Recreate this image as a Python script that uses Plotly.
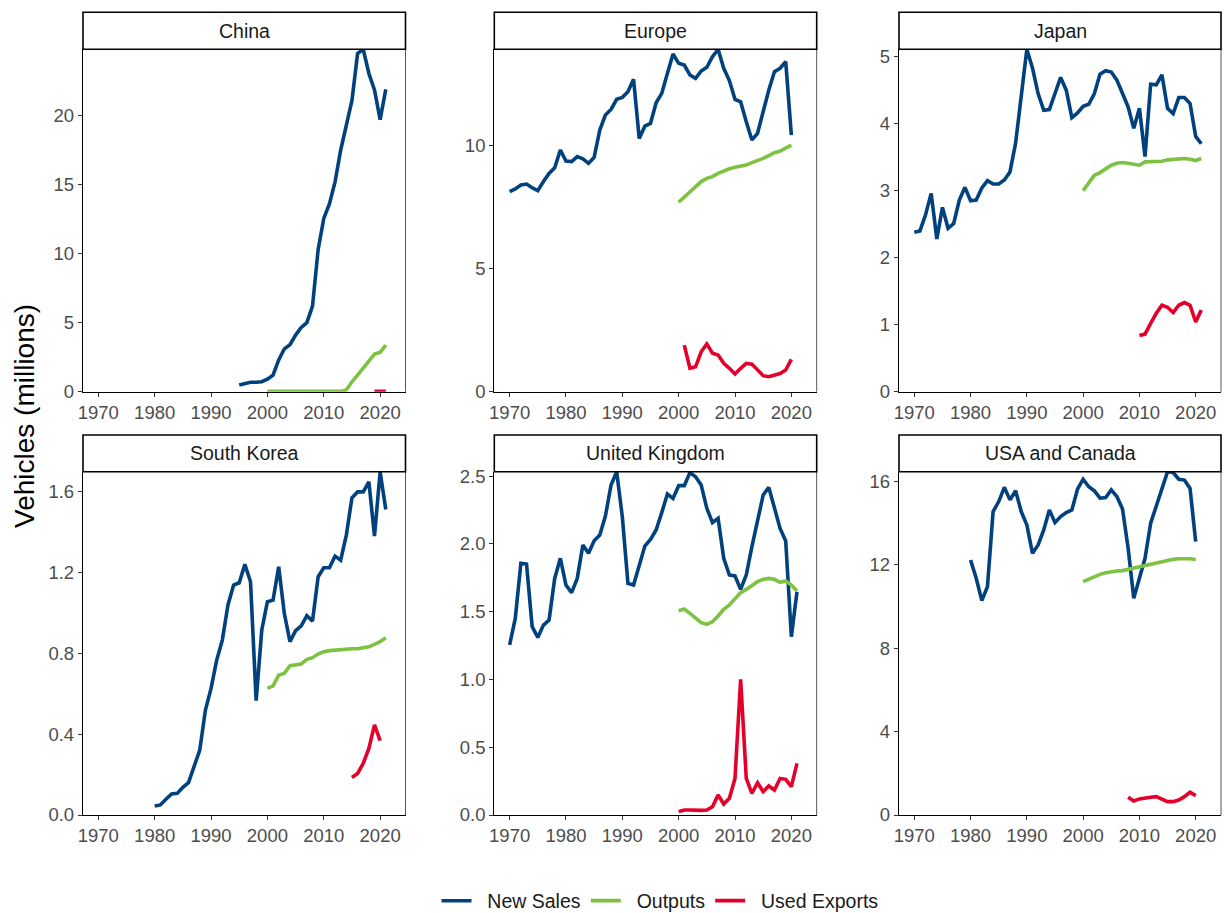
import plotly.graph_objects as go

# ---------------- data (millions of vehicles) ----------------
regions = ["China", "Europe", "Japan", "South Korea", "United Kingdom", "USA and Canada"]
series_names = ["New Sales", "Outputs", "Used Exports"]
series_colors = ["#00417E", "#7DC242", "#E4002B"]

china_new_years = list(range(1995, 2022))
china_new = [0.48, 0.6, 0.68, 0.68, 0.72, 0.9, 1.2, 2.3, 3.1, 3.4, 4.1, 4.65, 5.0, 6.2,
             10.3, 12.55, 13.6, 15.2, 17.5, 19.3, 21.1, 24.5, 24.8, 23.05, 21.85, 19.7, 21.9]
china_out_years = list(range(2000, 2022))
china_out = [0.02, 0.02, 0.02, 0.02, 0.02, 0.02, 0.02, 0.02, 0.02, 0.02, 0.02, 0.02, 0.02, 0.02,
             0.12, 0.72, 1.2, 1.7, 2.25, 2.73, 2.85, 3.38]
china_used_years = [2019, 2020, 2021]
china_used = [0.03, 0.03, 0.03]

europe_new_years = list(range(1970, 2021))
europe_new = [8.12, 8.23, 8.39, 8.43, 8.28, 8.16, 8.53, 8.86, 9.09, 9.81,
              9.36, 9.34, 9.54, 9.45, 9.27, 9.51, 10.62, 11.23, 11.46, 11.87,
              11.95, 12.18, 12.68, 10.28, 10.78, 10.89, 11.73, 12.11, 12.92, 13.71,
              13.33, 13.26, 12.86, 12.72, 13.02, 13.17, 13.6, 13.9, 13.13, 12.63,
              11.87, 11.77, 10.96, 10.22, 10.49, 11.43, 12.25, 12.99, 13.13, 13.4,
              10.42]
europe_out_years = list(range(2000, 2021))
europe_out = [7.69, 7.89, 8.12, 8.32, 8.53, 8.66, 8.73, 8.86, 8.96, 9.05, 9.11, 9.16, 9.2,
              9.3, 9.38, 9.47, 9.58, 9.7, 9.77, 9.88, 10.01]
europe_used_years = list(range(2001, 2021))
europe_used = [1.89, 0.95, 1.01, 1.62, 1.94, 1.56, 1.49, 1.15, 0.95, 0.72, 0.95, 1.15, 1.12,
               0.88, 0.65, 0.61, 0.68, 0.74, 0.88, 1.31]

japan_new_years = list(range(1970, 2022))
japan_new = [2.38, 2.4, 2.64, 2.96, 2.28, 2.75, 2.44, 2.51, 2.86, 3.05,
             2.85, 2.86, 3.04, 3.15, 3.1, 3.1, 3.16, 3.28, 3.71, 4.4,
             5.11, 4.83, 4.45, 4.2, 4.21, 4.45, 4.69, 4.5, 4.09, 4.16,
             4.26, 4.29, 4.45, 4.74, 4.79, 4.77, 4.65, 4.45, 4.25, 3.93,
             4.23, 3.51, 4.59, 4.58, 4.73, 4.23, 4.15, 4.39, 4.39, 4.3,
             3.81, 3.7]
japan_out_years = list(range(2000, 2022))
japan_out = [3.0, 3.11, 3.23, 3.27, 3.33, 3.38, 3.41, 3.42, 3.41, 3.39, 3.38, 3.43, 3.43,
             3.43, 3.44, 3.46, 3.47, 3.48, 3.48, 3.47, 3.45, 3.48]
japan_used_years = list(range(2010, 2022))
japan_used = [0.84, 0.86, 1.02, 1.17, 1.29, 1.26, 1.18, 1.29, 1.33, 1.29, 1.04, 1.22]

korea_new_years = list(range(1980, 2022))
korea_new = [0.045, 0.05, 0.078, 0.104, 0.107, 0.137, 0.16, 0.248, 0.322, 0.52,
             0.627, 0.767, 0.866, 1.04, 1.139, 1.15, 1.241, 1.155, 0.566, 0.916,
             1.056, 1.064, 1.229, 0.998, 0.858, 0.913, 0.937, 0.987, 0.96, 1.18,
             1.224, 1.224, 1.282, 1.262, 1.386, 1.571, 1.6, 1.6, 1.65, 1.381,
             1.70, 1.513]
korea_out_years = list(range(2000, 2022))
korea_out = [0.627, 0.639, 0.693, 0.701, 0.739, 0.743, 0.748, 0.771, 0.779, 0.797, 0.809,
             0.814, 0.817, 0.817, 0.822, 0.823, 0.823, 0.827, 0.833, 0.845, 0.858, 0.878]
korea_used_years = list(range(2015, 2021))
korea_used = [0.186, 0.206, 0.256, 0.33, 0.446, 0.368]

uk_new_years = list(range(1970, 2022))
uk_new = [1.254, 1.45, 1.856, 1.851, 1.389, 1.31, 1.401, 1.438, 1.745, 1.893,
          1.696, 1.64, 1.745, 1.991, 1.93, 2.023, 2.065, 2.205, 2.434, 2.532,
          2.2, 1.708, 1.696, 1.844, 1.984, 2.033, 2.102, 2.23, 2.367, 2.335,
          2.429, 2.429, 2.525, 2.495, 2.434, 2.262, 2.156, 2.188, 1.893, 1.77,
          1.763, 1.664, 1.77, 1.979, 2.18, 2.36, 2.416, 2.274, 2.114, 2.021,
          1.315, 1.647]
uk_out_years = list(range(2000, 2022))
uk_out = [1.507, 1.519, 1.487, 1.45, 1.418, 1.406, 1.426, 1.468, 1.517, 1.549, 1.598,
          1.64, 1.664, 1.696, 1.721, 1.738, 1.745, 1.738, 1.716, 1.726, 1.696, 1.652]
uk_used_years = list(range(2000, 2022))
uk_used = [0.025, 0.037, 0.037, 0.034, 0.034, 0.037, 0.061, 0.147, 0.081, 0.123, 0.27,
           1.0, 0.27, 0.16, 0.238, 0.172, 0.214, 0.184, 0.27, 0.263, 0.209, 0.381]

usa_new_years = list(range(1980, 2021))
usa_new = [12.22, 11.34, 10.27, 10.94, 14.54, 15.02, 15.7, 15.1, 15.54, 14.54,
           13.9, 12.54, 12.94, 13.66, 14.62, 14.01, 14.3, 14.49, 14.62, 15.61,
           16.09, 15.73, 15.53, 15.18, 15.21, 15.58, 15.26, 14.66, 12.78, 10.38,
           11.34, 12.3, 13.98, 14.78, 15.58, 16.45, 16.41, 16.09, 16.05, 15.65,
           13.1]
usa_out_years = list(range(2000, 2021))
usa_out = [11.18, 11.31, 11.42, 11.53, 11.61, 11.66, 11.69, 11.71, 11.77, 11.84, 11.9,
           11.98, 12.03, 12.09, 12.14, 12.2, 12.25, 12.28, 12.3, 12.28, 12.24]
usa_used_years = list(range(2008, 2021))
usa_used = [0.85, 0.67, 0.77, 0.83, 0.85, 0.88, 0.77, 0.64, 0.64, 0.72, 0.88, 1.09, 0.93]

x_tick_vals = [1970, 1980, 1990, 2000, 2010, 2020]
y_tick_vals = [
    [0, 5, 10, 15, 20],
    [0, 5, 10],
    [0, 1, 2, 3, 4, 5],
    [0.0, 0.4, 0.8, 1.2, 1.6],
    [0.0, 0.5, 1.0, 1.5, 2.0, 2.5],
    [0, 4, 8, 12, 16],
]
y_tick_text = [
    ["0", "5", "10", "15", "20"],
    ["0", "5", "10"],
    ["0", "1", "2", "3", "4", "5"],
    ["0.0", "0.4", "0.8", "1.2", "1.6"],
    ["0.0", "0.5", "1.0", "1.5", "2.0", "2.5"],
    ["0", "4", "8", "12", "16"],
]

panel_data = [
    [(china_new_years, china_new), (china_out_years, china_out), (china_used_years, china_used)],
    [(europe_new_years, europe_new), (europe_out_years, europe_out), (europe_used_years, europe_used)],
    [(japan_new_years, japan_new), (japan_out_years, japan_out), (japan_used_years, japan_used)],
    [(korea_new_years, korea_new), (korea_out_years, korea_out), (korea_used_years, korea_used)],
    [(uk_new_years, uk_new), (uk_out_years, uk_out), (uk_used_years, uk_used)],
    [(usa_new_years, usa_new), (usa_out_years, usa_out), (usa_used_years, usa_used)],
]

# ---------------- layout geometry (pixels) ----------------
W, H = 1226, 913
col_px = [(83, 405.5), (494.3, 816.7), (899, 1221)]
row_plot_px = [(49.3, 391.7), (471.7, 815)]
row_strip_px = [(12.3, 49.3), (435, 471.7)]
FONT = "Liberation Sans, Arial, sans-serif"
NBSP = "\u00a0"

def fx(px):
    return px / W

def fy(py):
    return 1 - py / H

fig = go.Figure()
shapes = []
annotations = []
layout_axes = {}

for i, region in enumerate(regions):
    r, c = divmod(i, 3)
    n = i + 1
    xa = "x" if n == 1 else f"x{n}"
    ya = "y" if n == 1 else f"y{n}"
    for s, (yrs, vals) in enumerate(panel_data[i]):
        fig.add_trace(go.Scatter(
            x=yrs, y=vals, mode="lines", name=NBSP * 2 + series_names[s],
            line=dict(color=series_colors[s], width=3.6),
            legendgroup=series_names[s], showlegend=(i == 0),
            xaxis=xa, yaxis=ya,
        ))
    ymax = max(max(v) for _, v in panel_data[i])
    x0, x1 = col_px[c]
    py0, py1 = row_plot_px[r]
    sy0, sy1 = row_strip_px[r]
    axis_common = dict(
        showline=True, linecolor="black", linewidth=1.3,
        ticks="outside", ticklen=4, tickwidth=1.3, tickcolor="#333333",
        tickfont=dict(size=18.5, color="#4D4D4D", family=FONT),
        showgrid=False, zeroline=False, fixedrange=True, automargin=False,
    )
    layout_axes["xaxis" if n == 1 else f"xaxis{n}"] = dict(
        domain=[fx(x0), fx(x1)], anchor=ya, range=[1967.28, 2024.5],
        tickvals=x_tick_vals, **axis_common)
    layout_axes["yaxis" if n == 1 else f"yaxis{n}"] = dict(
        domain=[fy(py1), fy(py0)], anchor=xa, range=[0, ymax],
        tickvals=y_tick_vals[i], ticktext=y_tick_text[i], **axis_common)
    # right border of panel
    shapes.append(dict(type="line", xref="paper", yref="paper",
                       x0=fx(x1), x1=fx(x1), y0=fy(py1), y1=fy(py0),
                       line=dict(color="#555555", width=1)))
    # strip
    shapes.append(dict(type="rect", xref="paper", yref="paper",
                       x0=fx(x0), x1=fx(x1), y0=fy(sy1), y1=fy(sy0),
                       fillcolor="white", line=dict(color="black", width=1.6)))
    annotations.append(dict(text=region, xref="paper", yref="paper",
                            x=fx((x0 + x1) / 2), y=fy((sy0 + sy1) / 2),
                            showarrow=False, xanchor="center", yanchor="middle",
                            font=dict(size=19.5, color="#1A1A1A", family=FONT)))

annotations.append(dict(text="Vehicles (millions)", xref="paper", yref="paper",
                        x=fx(24), y=fy(416), textangle=-90, showarrow=False,
                        xanchor="center", yanchor="middle",
                        font=dict(size=28, color="black", family=FONT)))

fig.update_layout(
    width=W, height=H,
    margin=dict(l=0, r=0, t=0, b=0, autoexpand=False),
    paper_bgcolor="white", plot_bgcolor="white",
    font=dict(family=FONT),
    shapes=shapes, annotations=annotations,
    legend=dict(orientation="h", x=fx(660), xanchor="center", y=fy(901), yanchor="middle",
                font=dict(size=19.5, color="#1A1A1A", family=FONT),
                itemwidth=30, bgcolor="rgba(0,0,0,0)"),
    **layout_axes,
)

fig.write_html("out.html", config={"displayModeBar": False},
               post_script="document.body.style.margin='0px';document.body.style.padding='0px';")
